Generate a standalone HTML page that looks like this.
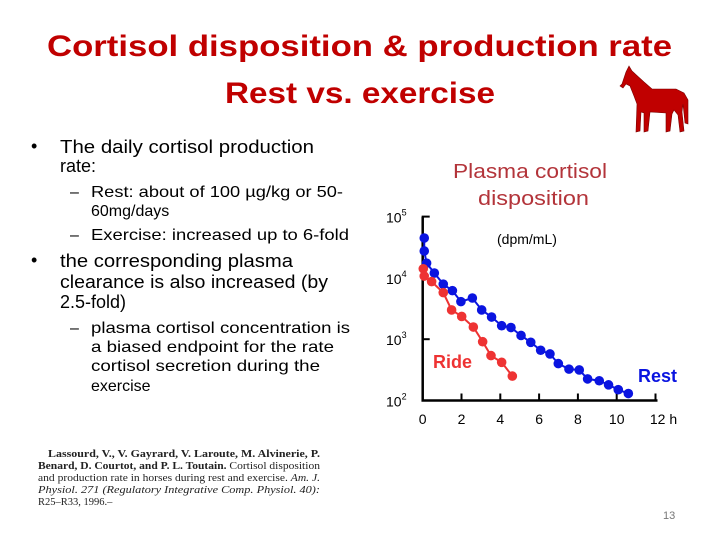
<!DOCTYPE html>
<html><head><meta charset="utf-8"><style>
html,body{margin:0;padding:0;background:#fff;}
svg{display:block;}
text{font-family:"Liberation Sans",sans-serif;}
.b{font-size:18px;fill:#000;}
.s{font-size:16px;fill:#000;}
.c{font-family:"Liberation Serif",serif;font-size:10.5px;fill:#222;}
</style></head><body>
<svg id="slide" width="720" height="540" viewBox="0 0 720 540">
<g fill="#c00000" font-size="30" font-weight="bold">
<text x="47" y="56" textLength="625" lengthAdjust="spacingAndGlyphs">Cortisol disposition &amp; production rate</text>
<text x="225" y="103" textLength="270" lengthAdjust="spacingAndGlyphs">Rest vs. exercise</text>
</g>
<path fill="#c00000" stroke="#7a0000" stroke-width="0.6" d="M622,84 L626,72 L629,66 L632,71 L644,82 L652,89 L676,89 L684,93 L688,100 L688,124 L685,123 L683,104 L682,112 L684,131 L680,132 L678,115 L674,110 L672,114 L670,131 L666,132 L666,113 L650,112 L648,131 L644,132 L644,113 L641,112 L640,131 L636,132 L637,104 L634,96 L630,86 L626,84 L623,88 L620,86 Z"/>
<g>
<text class="b" x="31" y="152">•</text>
<text class="b" x="60" y="153" textLength="254" lengthAdjust="spacingAndGlyphs">The daily cortisol production</text>
<text class="b" x="60" y="172">rate:</text>
<text class="s" x="70" y="197">–</text>
<text class="s" x="91" y="197" textLength="252" lengthAdjust="spacingAndGlyphs">Rest: about of 100 µg/kg or 50-</text>
<text class="s" x="91" y="216">60mg/days</text>
<text class="s" x="70" y="240">–</text>
<text class="s" x="91" y="240" textLength="258" lengthAdjust="spacingAndGlyphs">Exercise: increased up to  6-fold</text>
<text class="b" x="31" y="266">•</text>
<text class="b" x="60" y="267" textLength="233" lengthAdjust="spacingAndGlyphs">the corresponding plasma</text>
<text class="b" x="60" y="288" textLength="268" lengthAdjust="spacingAndGlyphs">clearance is also increased (by</text>
<text class="b" x="60" y="308">2.5-fold)</text>
<text class="s" x="70" y="333">–</text>
<text class="s" x="91" y="333" textLength="259" lengthAdjust="spacingAndGlyphs">plasma cortisol concentration is</text>
<text class="s" x="91" y="352" textLength="243" lengthAdjust="spacingAndGlyphs">a biased endpoint for the rate</text>
<text class="s" x="91" y="371" textLength="229" lengthAdjust="spacingAndGlyphs">cortisol secretion during the</text>
<text class="s" x="91" y="391">exercise</text>
</g>
<g>
<text class="c" x="48" y="457" font-weight="bold" textLength="272" lengthAdjust="spacingAndGlyphs">Lassourd, V., V. Gayrard, V. Laroute, M. Alvinerie, P.</text>
<text class="c" x="38" y="469" textLength="282" lengthAdjust="spacingAndGlyphs"><tspan font-weight="bold">Benard, D. Courtot, and P. L. Toutain.</tspan> Cortisol disposition</text>
<text class="c" x="38" y="481" textLength="282" lengthAdjust="spacingAndGlyphs">and production rate in horses during rest and exercise. <tspan font-style="italic">Am. J.</tspan></text>
<text class="c" x="38" y="493" font-style="italic" textLength="282" lengthAdjust="spacingAndGlyphs">Physiol. 271 (Regulatory Integrative Comp. Physiol. 40):</text>
<text class="c" x="38" y="505">R25–R33, 1996.–</text>
</g>
<g fill="#b3343a" font-size="20">
<text x="453" y="178" textLength="154" lengthAdjust="spacingAndGlyphs">Plasma cortisol</text>
<text x="478" y="205" textLength="111" lengthAdjust="spacingAndGlyphs">disposition</text>
</g>
<text x="497" y="244" font-size="14">(dpm/mL)</text>
<g id="chart"></g>
<text x="663" y="519" font-size="11" fill="#777">13</text>
</svg>
<script>
const restHours=[0.08,0.08,0.2,0.6,1.06,1.53,1.97,2.56,3.04,3.55,4.07,4.55,5.07,5.57,6.08,6.56,6.99,7.54,8.07,8.5,9.1,9.58,10.08,10.6];
const restValues=[44700,27500,17400,12000,7900,6200,4100,4700,3000,2300,1660,1550,1150,890,660,575,400,325,315,225,210,180,150,130];
const rideHours=[0.03,0.08,0.46,1.06,1.49,2.01,2.61,3.09,3.52,4.07,4.62];
const rideValues=[14100,10700,8700,5750,3000,2350,1580,910,540,420,250];
const xTicks=[0,2,4,6,8,10,12];
const xTickLabels=["0","2","4","6","8","10","12 h"];
const yTickExps=[5,4,3,2];
const NS="http://www.w3.org/2000/svg";
const g=document.getElementById('chart');
function X(h){return 422.7+h*19.4;}
function Y(v){return 400.5-(Math.log10(v)-2)*61.3;}
function mk(t,a,parent){const e=document.createElementNS(NS,t);for(const k in a)e.setAttribute(k,a[k]);(parent||g).appendChild(e);return e;}
let ax=mk('path',{d:`M${X(0)},${Y(1e5)} L${X(0)},${Y(100)} L${X(12)+2},${Y(100)}`,stroke:'#000','stroke-width':2.5,fill:'none'});


xTicks.forEach((t,i)=>{
 if(t>0){const tk=mk('line',{x1:X(t),x2:X(t),y1:Y(100),y2:Y(100)-7,stroke:'#000','stroke-width':2});
 
 }
 const lb=mk('text',{x:X(t)+(i==6?8:0),y:424,'text-anchor':'middle','font-size':14});
 lb.textContent=xTickLabels[i];
 
 
});
yTickExps.forEach(e=>{
 const y=Y(Math.pow(10,e));
 if(e===5||e===3){const tk=mk('line',{x1:X(0)-1,x2:X(0)+7,y1:y,y2:y,stroke:'#000','stroke-width':2});
 
 }
 const lb=mk('text',{x:386,y:y+6,'font-size':14});
 lb.textContent='10';
 const sp=mk('tspan',{dy:-7,'font-size':9},lb);sp.textContent=String(e);
 
 
});
function series(hs,vs,color,name){
 const s=mk('g',{});
 
 
 mk('polyline',{points:hs.map((h,i)=>X(h)+','+Y(vs[i])).join(' '),stroke:color,'stroke-width':2,fill:'none'},s);
 hs.forEach((h,i)=>{const c=mk('circle',{cx:X(h),cy:Y(vs[i]),r:4.8,fill:color},s);
 
 });
}
series(restHours,restValues,'#0a14e0','rest-series');
series(rideHours,rideValues,'#ee3333','ride-series');
const r1=mk('text',{x:433,y:368,'font-size':18,'font-weight':'bold',fill:'#ee3333'});r1.textContent='Ride';


const r2=mk('text',{x:638,y:382,'font-size':18,'font-weight':'bold',fill:'#0a14e0'});r2.textContent='Rest';


</script>
</body></html>
